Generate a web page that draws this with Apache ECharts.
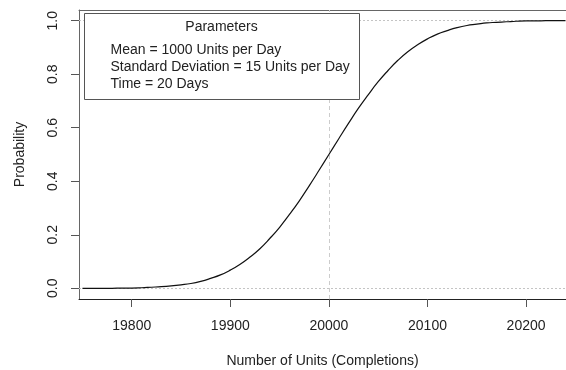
<!DOCTYPE html>
<html>
<head>
<meta charset="utf-8">
<script src="https://cdn.jsdelivr.net/npm/echarts@6/dist/echarts.min.js"></script>
<style>
  html, body { margin: 0; padding: 0; background: #fff; }
  #chart { width: 566px; height: 370px; }
</style>
</head>
<body>
<div id="chart"></div>
<script>
// units completed (x) and cumulative probability (y)
const units = [
  19750, 19760, 19770, 19780, 19790, 19800, 19810, 19820, 19830, 19840,
  19850, 19860, 19870, 19880, 19890, 19900, 19910, 19920, 19930, 19940,
  19950, 19960, 19970, 19980, 19990, 20000, 20010, 20020, 20030, 20040,
  20050, 20060, 20070, 20080, 20090, 20100, 20110, 20120, 20130, 20140,
  20150, 20160, 20170, 20180, 20190, 20200, 20210, 20220, 20230, 20240
];
const probability = [
  0.000, 0.000, 0.000, 0.000, 0.001, 0.001, 0.002, 0.004, 0.006, 0.009,
  0.013, 0.018, 0.026, 0.037, 0.050, 0.068, 0.090, 0.117, 0.148, 0.186,
  0.228, 0.276, 0.327, 0.383, 0.441, 0.500, 0.559, 0.617, 0.673, 0.724,
  0.772, 0.814, 0.852, 0.884, 0.910, 0.932, 0.950, 0.963, 0.974, 0.982,
  0.987, 0.992, 0.994, 0.996, 0.998, 0.999, 0.999, 1.000, 1.000, 1.000
];
const xTicks = [19800, 19900, 20000, 20100, 20200];
const yTicks = [0, 0.2, 0.4, 0.6, 0.8, 1.0];
const meanUnits = 20000;
const legendTitle = "Parameters";
const legendLines = [
  "Mean = 1000 Units per Day",
  "Standard Deviation = 15 Units per Day",
  "Time = 20 Days"
];

const chart = echarts.init(document.getElementById("chart"));
const font = "Liberation Sans, Arial, sans-serif";

// legend box contents, one text element per line
const legendItems = [
  {
    type: "rect",
    z: 100,
    shape: { x: 0, y: 0, width: 275, height: 86 },
    style: { fill: "#fff", stroke: "#555", lineWidth: 1 }
  },
  {
    type: "text",
    z: 101,
    x: 137,
    y: 14,
    style: { text: legendTitle, font: "14px " + font, fill: "#222", align: "center", verticalAlign: "middle" }
  }
];
legendLines.forEach((line, i) => {
  legendItems.push({
    type: "text",
    z: 101,
    x: 26,
    y: 37 + i * 17,
    style: { text: line, font: "14px " + font, fill: "#222", align: "left", verticalAlign: "middle" }
  });
});

chart.setOption({
  animation: false,
  grid: { left: 79, top: 10, right: 0, bottom: 71, containLabel: false, outerBoundsMode: "none" },
  xAxis: [
    {
      type: "value",
      min: 19746.5,
      max: 20240.5,
      name: "Number of Units (Completions)",
      nameLocation: "middle",
      nameGap: 55,
      nameTextStyle: { fontFamily: font, fontSize: 14, color: "#222" },
      axisLine: { onZero: false, lineStyle: { color: "#222", width: 1 } },
      axisTick: { customValues: xTicks, length: 8, inside: false, lineStyle: { color: "#555" } },
      axisLabel: {
        customValues: xTicks,
        margin: 20,
        fontFamily: font,
        fontSize: 14,
        color: "#222",
        formatter: v => String(v)
      },
      splitLine: { show: false }
    },
    {
      // top edge of the plot box
      type: "value",
      position: "top",
      min: 19746.5,
      max: 20240.5,
      axisLine: { show: true, onZero: false, lineStyle: { color: "#666" } },
      axisTick: { show: false },
      axisLabel: { show: false },
      splitLine: { show: false }
    }
  ],
  yAxis: {
    type: "value",
    min: -0.04,
    max: 1.04,
    name: "Probability",
    nameLocation: "middle",
    nameGap: 52,
    nameTextStyle: { fontFamily: font, fontSize: 14, color: "#222" },
    axisLine: { show: true, onZero: false, lineStyle: { color: "#666", width: 1 } },
    axisTick: { show: true, customValues: yTicks, length: 8, lineStyle: { color: "#555" } },
    axisLabel: {
      customValues: yTicks,
      rotate: 90,
      margin: 19,
      fontFamily: font,
      fontSize: 14,
      color: "#222",
      formatter: v => v.toFixed(1)
    },
    splitLine: { show: false }
  },
  series: [
    {
      type: "line",
      data: units.map((u, i) => [u, probability[i]]),
      showSymbol: false,
      smooth: true,
      lineStyle: { color: "#111", width: 1.2 },
      z: 3,
      markLine: {
        silent: true,
        symbol: "none",
        label: { show: false },
        z: 1,
        data: [
          { yAxis: 0, lineStyle: { color: "#c4c4c4", type: [2, 2], width: 1 } },
          { yAxis: 1, lineStyle: { color: "#c4c4c4", type: [2, 2], width: 1 } },
          { xAxis: meanUnits, lineStyle: { color: "#ccc", type: [4, 3], width: 1 } }
        ]
      }
    }
  ],
  graphic: [
    {
      type: "group",
      left: 84,
      top: 13,
      z: 100,
      children: legendItems
    }
  ]
});
</script>
</body>
</html>
